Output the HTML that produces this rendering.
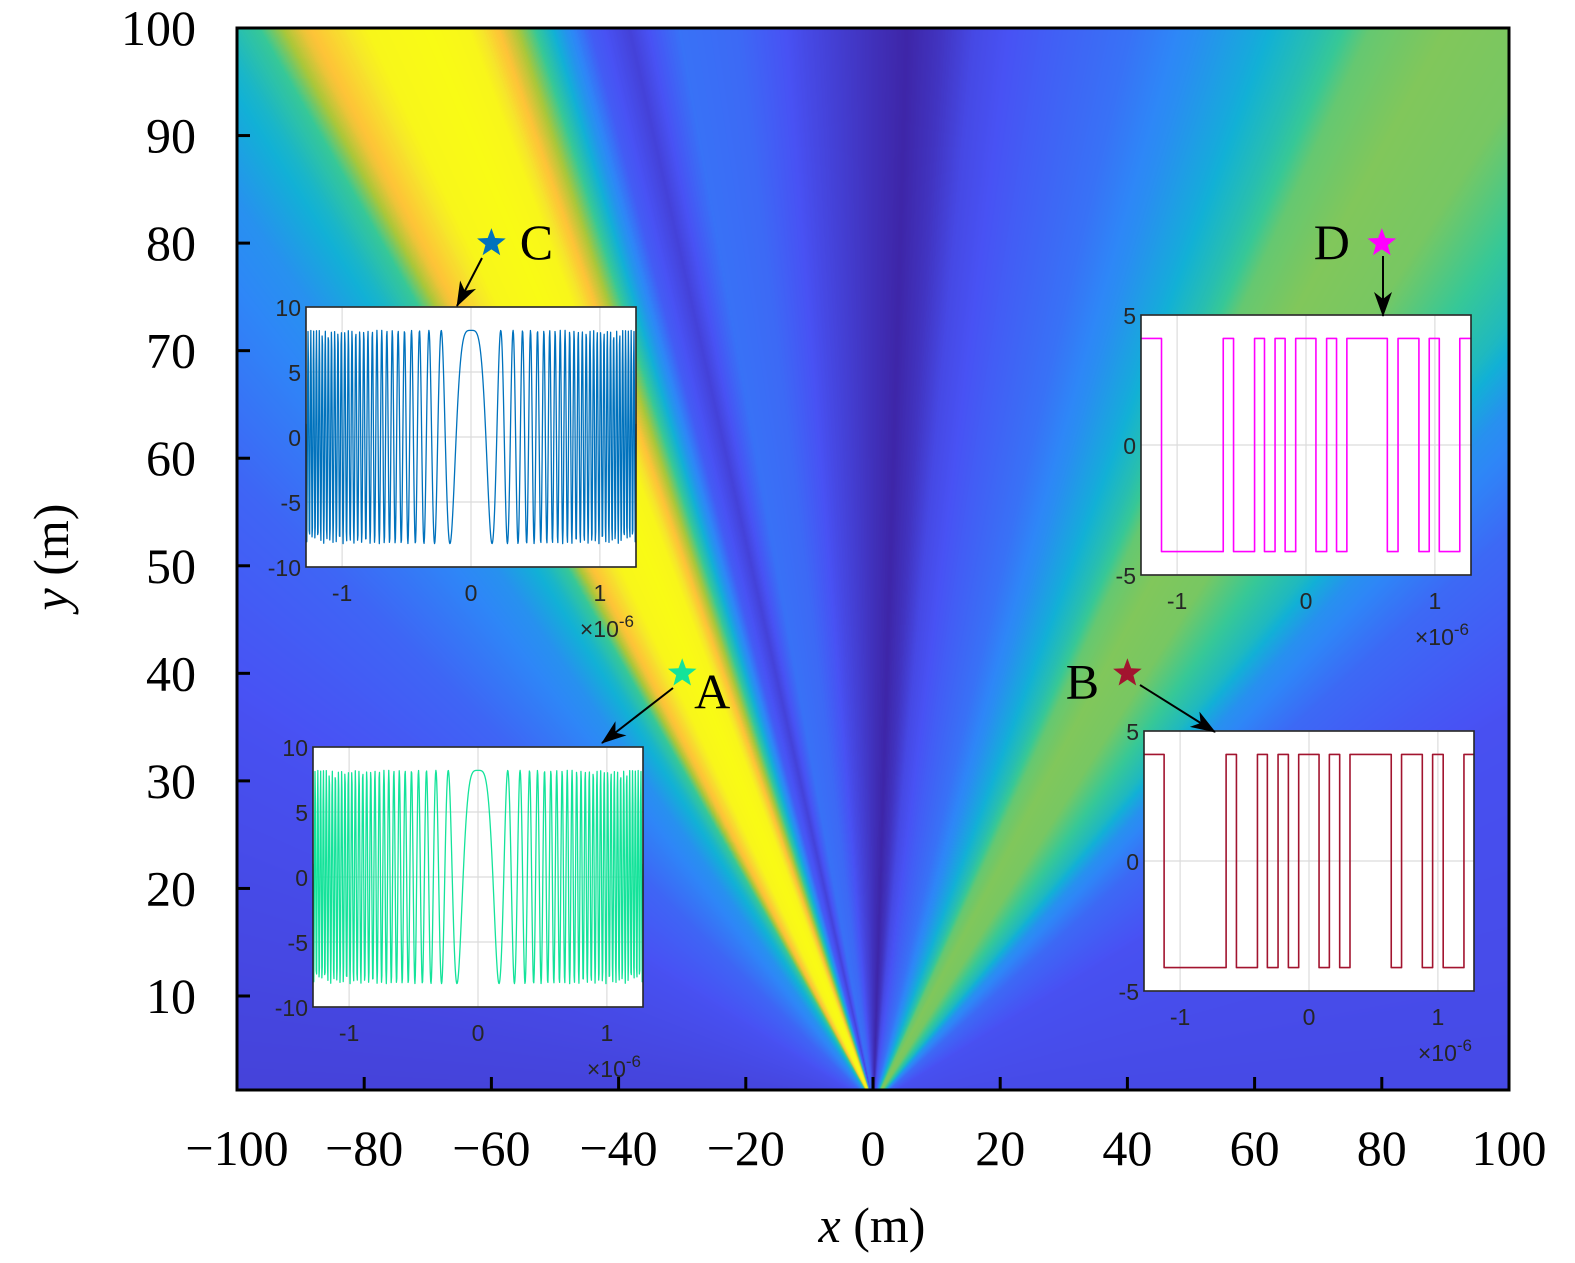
<!DOCTYPE html>
<html><head><meta charset="utf-8"><title>Beam field with inset waveforms</title>
<style>
html,body{margin:0;padding:0;background:#fff;}
#wrap{position:relative;width:1575px;height:1263px;overflow:hidden;}
#heat{position:absolute;left:237px;top:28px;}
#ov{position:absolute;left:0;top:0;}
</style></head>
<body>
<div id="wrap">
<canvas id="heat" width="1272" height="1062"></canvas>
<svg id="ov" width="1575" height="1263" xmlns="http://www.w3.org/2000/svg">
<defs>
<marker id="ah" markerWidth="26" markerHeight="20" refX="24" refY="10" orient="auto" markerUnits="userSpaceOnUse">
<path d="M0,1 L25,10 L0,19 L7,10 Z" fill="#000"/>
</marker>
</defs>
<g id="axes"></g>
<g id="insets"></g>
<g id="marks"></g>
</svg>
</div>
<script>
// ---- main heatmap data: normalized intensity vs. beam angle (deg from +y axis) ----
const beamAngles = [-90,-70,-60,-50,-46,-44,-42,-40,-38.5,-35,-32.5,-31,-29,-27.5,-26,-24,-21,-17,-12,-6,0,3,6,9,15,22,27,31,35,38,42,47,51,54,57,62,70,90];
const beamValues = [0.08,0.12,0.17,0.28,0.4,0.5,0.72,0.85,0.97,1.0,0.97,0.8,0.6,0.45,0.3,0.15,0.08,0.2,0.18,0.1,0.03,0.0,0.04,0.1,0.15,0.2,0.27,0.35,0.45,0.55,0.58,0.57,0.5,0.42,0.28,0.18,0.12,0.1];
const xTicks = [-100,-80,-60,-40,-20,0,20,40,60,80,100];
const yTicks = [10,20,30,40,50,60,70,80,90,100];
// ---- inset waveform data ----
const chirpAmp = 8.2;
const chirpRate = 118;
const chirpSamples = 820;
const sqLevel = 4.1;
const edgesD = [-1.121,-0.642,-0.562,-0.399,-0.322,-0.240,-0.162,-0.080,0.077,0.160,0.237,0.317,0.631,0.714,0.876,0.956,1.034,1.193];
const edgesB = [-1.124,-0.643,-0.563,-0.400,-0.323,-0.240,-0.160,-0.080,0.078,0.158,0.238,0.318,0.638,0.718,0.879,0.959,1.041,1.202];
const pointNames = ['A','B','C','D'];
const pointX = [-30,40,-60,80];
const pointY = [40,40,80,80];

const NS='http://www.w3.org/2000/svg';
const X0=237,X1=1509,Y0=28,YB=1090;
const xs=v=>X0+(v+100)*(X1-X0)/200;
const ys=v=>Y0+(100-v)*(968/90);
function mk(tag,attrs,parent){const e=document.createElementNS(NS,tag);for(const k in attrs)e.setAttribute(k,attrs[k]);parent.appendChild(e);return e;}

const par=[[0,62,38,168],[0.125,72,82,244],[0.25,46,135,247],[0.375,18,177,214],[0.5,55,200,151],[0.625,171,199,57],[0.75,254,195,56],[0.875,246,230,43],[1,249,251,21]];
function parula(v){v=Math.max(0,Math.min(1,v));for(let i=1;i<par.length;i++){if(v<=par[i][0]){const a=par[i-1],b=par[i],f=(v-a[0])/(b[0]-a[0]);return [a[1]+(b[1]-a[1])*f,a[2]+(b[2]-a[2])*f,a[3]+(b[3]-a[3])*f];}}return par[par.length-1].slice(1);}
function interp(arrX,arrY,v){if(v<=arrX[0])return arrY[0];for(let i=1;i<arrX.length;i++){if(v<=arrX[i]){const f=(v-arrX[i-1])/(arrX[i]-arrX[i-1]);return arrY[i-1]+(arrY[i]-arrY[i-1])*f;}}return arrY[arrY.length-1];}

(function(){
 const c=document.getElementById('heat'),ctx=c.getContext('2d');
 const W=c.width,H=c.height,img=ctx.createImageData(W,H);
 const lut=[];for(let i=0;i<=1800;i++){lut.push(interp(beamAngles,beamValues,-90+i*0.1));}
 for(let py=0;py<H;py++){
  const yv=100-(py)*(90/968);
  for(let px=0;px<W;px++){
   const xv=-100+px*200/(X1-X0);
   const th=Math.atan2(xv,Math.max(yv,0.01))*180/Math.PI;
   const v=lut[Math.round((th+90)*10)];
   const col=parula(v);const k=(py*W+px)*4;
   img.data[k]=col[0];img.data[k+1]=col[1];img.data[k+2]=col[2];img.data[k+3]=255;
  }
 }
 ctx.putImageData(img,0,0);
})();

(function(){
 const g=document.getElementById('axes');
 const frame=mk('rect',{x:X0,y:Y0,width:X1-X0,height:YB-Y0,fill:'none',stroke:'#000','stroke-width':3},g);
 
 
 xTicks.forEach(t=>{
  const x=xs(t);
  const tk=mk('line',{x1:x,y1:YB,x2:x,y2:YB-13,stroke:'#000','stroke-width':3},g);
  
  
  const lb=mk('text',{x:x,y:1165,'text-anchor':'middle','font-family':'Liberation Serif, serif','font-size':50,fill:'#000'},g);
  lb.textContent=(t<0?'\u2212':'')+Math.abs(t);
  
  
 });
 yTicks.forEach(t=>{
  const y=ys(t);
  const tk=mk('line',{x1:X0,y1:y,x2:X0+13,y2:y,stroke:'#000','stroke-width':3},g);
  
  
  const lb=mk('text',{x:196,y:y+17,'text-anchor':'end','font-family':'Liberation Serif, serif','font-size':50,fill:'#000'},g);
  lb.textContent=String(t);
  
  
 });
 const xt=mk('text',{x:872,y:1242,'text-anchor':'middle','font-family':'Liberation Serif, serif','font-size':50,fill:'#000'},g);
 xt.innerHTML='<tspan font-style="italic">x</tspan> (m)';
 
 
 const yt=mk('text',{x:0,y:0,'text-anchor':'middle','font-family':'Liberation Serif, serif','font-size':50,fill:'#000',transform:'translate(68,557) rotate(-90)'},g);
 yt.innerHTML='<tspan font-style="italic">y</tspan> (m)';
 
 
})();

function inset(name,bx,by,ymax,yt,color,kind,edges){
 const W=330,H=260,g=mk('g',{},document.getElementById('insets'));
 
 
 const tmin=-1.28,tmax=1.28;
 const sx=t=>bx+(t-tmin)/(tmax-tmin)*W, sy=v=>by+(ymax-v)/(2*ymax)*H;
 mk('rect',{x:bx,y:by,width:W,height:H,fill:'#fff'},g);
 [-1,0,1].forEach(t=>{
  mk('line',{x1:sx(t),y1:by,x2:sx(t),y2:by+H,stroke:'#dcdcdc','stroke-width':1.2},g);
  const l=mk('text',{x:sx(t),y:by+H+34,'text-anchor':'middle','font-family':'Liberation Sans, sans-serif','font-size':23,fill:'#262626'},g);
  l.textContent=String(t);
  
  
 });
 yt.forEach(v=>{
  mk('line',{x1:bx,y1:sy(v),x2:bx+W,y2:sy(v),stroke:'#dcdcdc','stroke-width':1.2},g);
  const l=mk('text',{x:bx-5,y:sy(v)+9,'text-anchor':'end','font-family':'Liberation Sans, sans-serif','font-size':23,fill:'#262626'},g);
  l.textContent=String(v);
  
  
 });
 let d='';
 if(kind==='chirp'){
  for(let i=0;i<chirpSamples;i++){const t=tmin+(tmax-tmin)*i/(chirpSamples-1);const v=chirpAmp*Math.cos(chirpRate*t*t);d+=(i?'L':'M')+sx(t).toFixed(2)+','+sy(v).toFixed(2);}
 }else{
  let lvl=sqLevel;d='M'+sx(tmin)+','+sy(lvl);
  edges.forEach(e=>{d+='L'+sx(e).toFixed(2)+','+sy(lvl);lvl=-lvl;d+='L'+sx(e).toFixed(2)+','+sy(lvl);});
  d+='L'+sx(tmax)+','+sy(lvl);
 }
 const p=mk('path',{d:d,fill:'none',stroke:color,'stroke-width':kind==='chirp'?1.3:1.6,'stroke-linejoin':'round'},g);
 
 
 mk('rect',{x:bx,y:by,width:W,height:H,fill:'none',stroke:'#262626','stroke-width':1.6},g);
 const e=mk('text',{x:bx+W-2,y:by+H+70,'text-anchor':'end','font-family':'Liberation Sans, sans-serif','font-size':23,fill:'#262626'},g);
 e.innerHTML='\u00d710<tspan dy="-10" font-size="17">-6</tspan>';
 
 
}
inset('inset-c',306,307,10,[10,5,0,-5,-10],'#0072bd','chirp');
inset('inset-a',313,747,10,[10,5,0,-5,-10],'#14e39a','chirp');
inset('inset-d',1141,315,5,[5,0,-5],'#ff00ff','sq',edgesD);
inset('inset-b',1144,731,5,[5,0,-5],'#a2142f','sq',edgesB);

(function(){
 const g=document.getElementById('marks');
 const colors=['#14e39a','#a2142f','#0072bd','#ff00ff'];
 const labelDx=[30,-45,45,-50],labelDy=[35,25,16,16];
 const arrows=[[673,688,602,743],[1140,685,1215,732],[482,258,457,306],[1383,256,1383,316]];
 function star(cx,cy,r){let s='';for(let i=0;i<10;i++){const a=-Math.PI/2+i*Math.PI/5,rr=i%2?r*0.42:r;s+=(cx+rr*Math.cos(a)).toFixed(1)+','+(cy+rr*Math.sin(a)).toFixed(1)+' ';}return s;}
 pointNames.forEach((n,i)=>{
  const cx=xs(pointX[i]),cy=ys(pointY[i]);
  const st=mk('polygon',{points:star(cx,cy,15),fill:colors[i]},g);
  
  
  const t=mk('text',{x:cx+labelDx[i],y:cy+labelDy[i],'text-anchor':'middle','font-family':'Liberation Serif, serif','font-size':50,fill:'#000'},g);
  t.textContent=n;
  
  
  const a=arrows[i];
  const ar=mk('line',{x1:a[0],y1:a[1],x2:a[2],y2:a[3],stroke:'#000','stroke-width':2,'marker-end':'url(#ah)'},g);
  
  
 });
})();
</script>
</body></html>
